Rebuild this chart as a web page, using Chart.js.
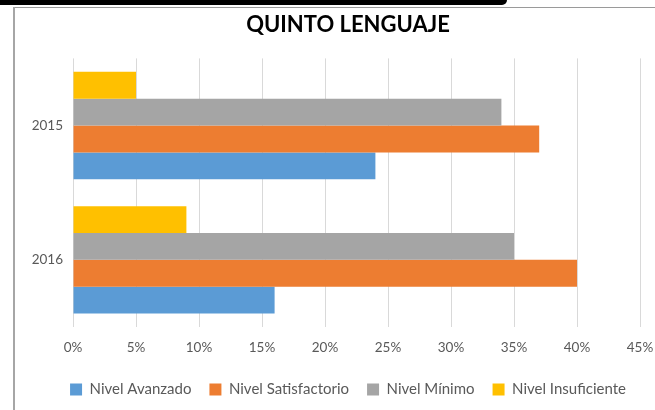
<!DOCTYPE html>
<html>
<head>
<meta charset="utf-8">
<script src="https://cdn.jsdelivr.net/npm/chart.js@4.4.1/dist/chart.umd.min.js"></script>
<style>
    html, body { margin: 0; padding: 0; background: #fff; overflow: hidden; }
    #wrap { position: relative; width: 655px; height: 410px; overflow: hidden; }
    #chart { position: absolute; left: 0; top: 0; }
    .topbar { position: absolute; left: 0; top: 0; width: 507px; height: 5px; background: #000; border-bottom-right-radius: 5px; }
    .topline { position: absolute; left: 13px; top: 7px; width: 642px; height: 1px; background: #9a9a9a; }
    .leftline { position: absolute; left: 13px; top: 7px; width: 2px; height: 403px; background: #a6a6a6; }
</style>
</head>
<body>
<div id="wrap">
    <canvas id="chart" width="690" height="410"></canvas>
    <div class="topbar"></div>
    <div class="topline"></div>
    <div class="leftline"></div>
</div>
<script>
const years = ['2015', '2016'];
const avanzado = [24, 16];
const satisfactorio = [37, 40];
const minimo = [34, 35];
const insuficiente = [5, 9];
const xTicks = [0, 5, 10, 15, 20, 25, 30, 35, 40, 45];

const textColor = '#595959';
const fontFamily = 'Lato, "Open Sans", sans-serif';

function buildDatasets() {
    // listed top to bottom inside each year; legend is reversed to match
    return [{
        label: 'Nivel Insuficiente',
        data: insuficiente,
        backgroundColor: '#FFC000'
    },
    {
        label: 'Nivel Mínimo',
        data: minimo,
        backgroundColor: '#A5A5A5'
    },
    {
        label: 'Nivel Satisfactorio',
        data: satisfactorio,
        backgroundColor: '#ED7D31'
    },
    {
        label: 'Nivel Avanzado',
        data: avanzado,
        backgroundColor: '#5B9BD5'
    }];
}

const chartCtx = document.getElementById('chart').getContext('2d');

const chart = new Chart(chartCtx, {
    type: 'bar',
    data: {
        labels: years,
        datasets: buildDatasets()
    },
    options: {
        responsive: false,
        animation: false,
        indexAxis: 'y',
        categoryPercentage: 0.8,
        barPercentage: 1,
        layout: {
            padding: { left: 14, right: 8, top: 0, bottom: 3 }
        },
        plugins: {
            title: {
                display: true,
                text: 'QUINTO LENGUAJE',
                color: '#000',
                font: { family: fontFamily, size: 22, weight: 'bold' },
                padding: { top: 12, bottom: 20 }
            },
            legend: {
                position: 'bottom',
                reverse: true,
                labels: {
                    color: textColor,
                    font: { family: fontFamily, size: 15 },
                    boxWidth: 12,
                    boxHeight: 12,
                    padding: 18
                }
            },
            tooltip: { enabled: false }
        },
        scales: {
            x: {
                min: 0,
                max: 45,
                afterBuildTicks: s => { s.ticks = xTicks.map(v => ({ value: v })); },
                afterFit: s => { s.height = 37; },
                grid: { color: '#D9D9D9', drawTicks: false },
                border: { display: false },
                ticks: {
                    color: textColor,
                    font: { family: fontFamily, size: 13.5 },
                    padding: 13,
                    callback: v => v + '%'
                }
            },
            y: {
                afterFit: s => { s.width = 59; },
                grid: { display: false, drawTicks: false },
                border: { display: false },
                ticks: {
                    color: textColor,
                    font: { family: fontFamily, size: 13.5 },
                    padding: 10
                }
            },
            yRight: {
                type: 'category',
                position: 'right',
                afterFit: s => { s.width = 42; },
                grid: { display: false, drawTicks: false },
                border: { display: false },
                ticks: { display: false }
            }
        }
    }
});
</script>
</body>
</html>
